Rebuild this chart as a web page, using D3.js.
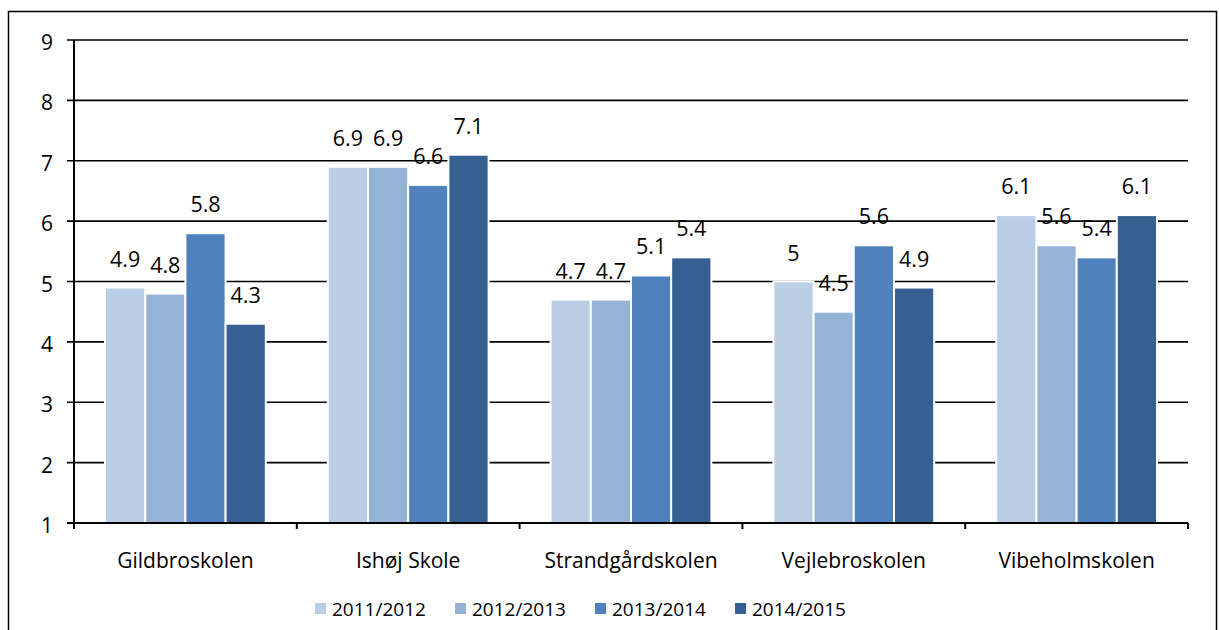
<!DOCTYPE html>
<html>
<head>
<meta charset="utf-8">
<script src="https://cdn.jsdelivr.net/npm/d3@7"></script>
<style>
  body { margin: 0; background: #fff; }
  svg { display: block; font-family: "Open Sans", sans-serif; }
</style>
</head>
<body>
<svg id="chart" width="1219" height="630"></svg>
<script>
const schools = ['Gildbroskolen', 'Ishøj Skole', 'Strandgårdskolen', 'Vejlebroskolen', 'Vibeholmskolen'];
const years = ['2011/2012', '2012/2013', '2013/2014', '2014/2015'];
const v2011 = [4.9, 6.9, 4.7, 5, 6.1];
const v2012 = [4.8, 6.9, 4.7, 4.5, 5.6];
const v2013 = [5.8, 6.6, 5.1, 5.6, 5.4];
const v2014 = [4.3, 7.1, 5.4, 4.9, 6.1];
const yTicks = [1, 2, 3, 4, 5, 6, 7, 8, 9];
const colors = ['#b9cde5', '#95b3d7', '#4f81bd', '#366092'];

const seriesVals = [v2011, v2012, v2013, v2014];
const svg = d3.select('#chart');

// outer frame, bottom edge falls off the picture
svg.append('rect')
  .attr('x', 8.5).attr('y', 11.5)
  .attr('width', 1208).attr('height', 640)
  .attr('fill', 'none').attr('stroke', '#000').attr('stroke-width', 1.5);

const pLeft = 74, pRight = 1188, pTop = 40, pBottom = 523;
const x0 = d3.scaleBand().domain(schools).range([pLeft, pRight]).padding(0);
const x1 = d3.scaleBand().domain(years).range([31, x0.bandwidth() - 31]).padding(0);
const y = d3.scaleLinear().domain([1, 9]).range([pBottom, pTop]);

// gridlines
svg.append('g').selectAll('line')
  .data(yTicks)
  .join('line')
  .attr('x1', pLeft - 7).attr('x2', pRight)
  .attr('y1', d => y(d)).attr('y2', d => y(d))
  .attr('stroke', '#000').attr('stroke-width', 1.6);

// y tick labels
svg.append('g').selectAll('text')
  .data(yTicks)
  .join('text')
  .attr('x', 53).attr('y', d => y(d))
  .attr('dy', '0.48em')
  .attr('text-anchor', 'end')
  .attr('font-size', 21)
  .text(d => d);

// bars
const groups = svg.append('g').selectAll('g')
  .data(schools)
  .join('g')
  .attr('transform', d => `translate(${x0(d)},0)`);

groups.selectAll('rect')
  .data((d, i) => years.map((yr, j) => ({ yr, v: seriesVals[j][i] })))
  .join('rect')
  .attr('x', d => x1(d.yr))
  .attr('y', d => y(d.v))
  .attr('width', x1.bandwidth())
  .attr('height', d => pBottom - y(d.v))
  .attr('fill', (d, j) => colors[j])
  .attr('stroke', '#fff').attr('stroke-width', 2);

groups.selectAll('text')
  .data((d, i) => years.map((yr, j) => ({ yr, v: seriesVals[j][i] })))
  .join('text')
  .attr('x', d => x1(d.yr) + x1.bandwidth() / 2)
  .attr('y', d => y(d.v) - 21)
  .attr('text-anchor', 'middle')
  .attr('font-size', 21.5)
  .text(d => d.v);

// axes lines
svg.append('line')
  .attr('x1', pLeft).attr('x2', pLeft)
  .attr('y1', pTop).attr('y2', pBottom + 6)
  .attr('stroke', '#000').attr('stroke-width', 2);
svg.append('line')
  .attr('x1', pLeft - 7).attr('x2', pRight)
  .attr('y1', pBottom).attr('y2', pBottom)
  .attr('stroke', '#000').attr('stroke-width', 2);
svg.append('g').selectAll('line')
  .data(schools.map(s => x0(s)).concat([pRight]))
  .join('line')
  .attr('x1', d => d).attr('x2', d => d)
  .attr('y1', pBottom).attr('y2', pBottom + 6)
  .attr('stroke', '#000').attr('stroke-width', 2);

// category labels
svg.append('g').selectAll('text')
  .data(schools)
  .join('text')
  .attr('x', d => x0(d) + x0.bandwidth() / 2)
  .attr('y', 568)
  .attr('text-anchor', 'middle')
  .attr('font-size', 21)
  .text(d => d);

// legend
const leg = svg.append('g').selectAll('g')
  .data(years)
  .join('g')
  .attr('transform', (d, i) => `translate(${315 + i * 140},603)`);
leg.append('rect')
  .attr('width', 11).attr('height', 11)
  .attr('fill', (d, i) => colors[i]);
leg.append('text')
  .attr('x', 17).attr('y', 13)
  .attr('font-size', 19)
  .text(d => d);
</script>
</body>
</html>
